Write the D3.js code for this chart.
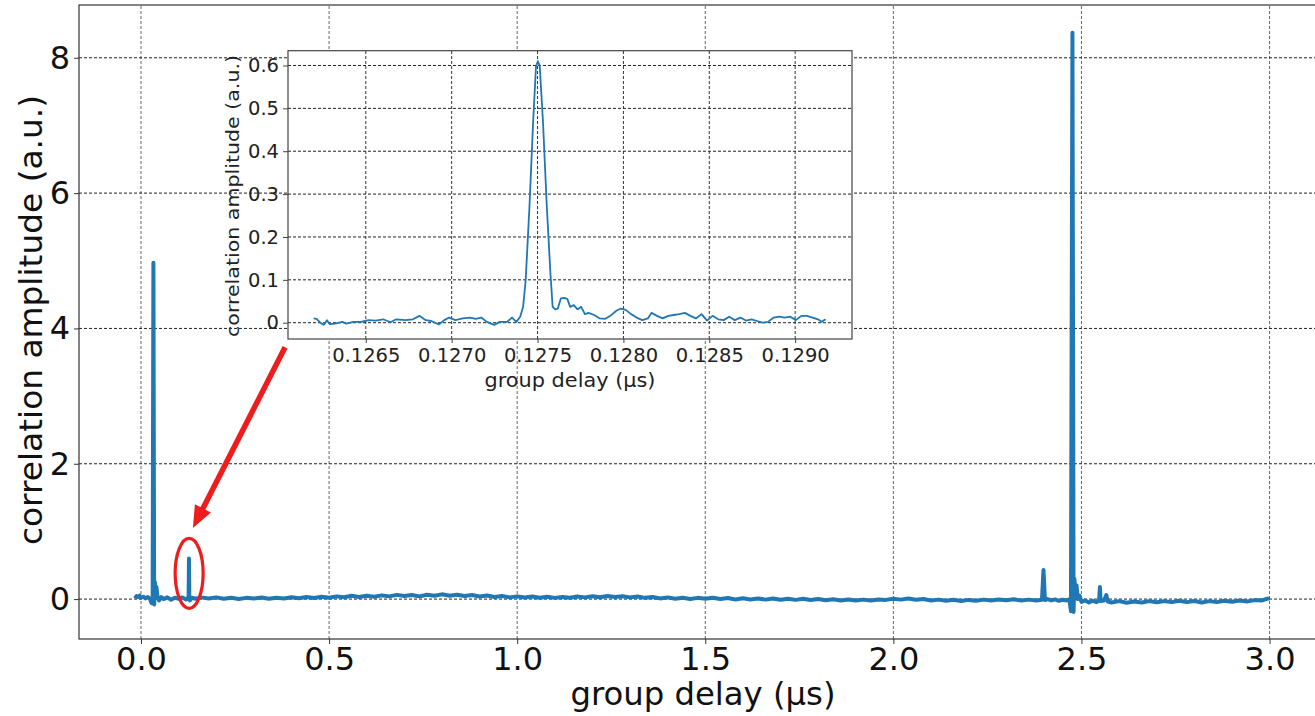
<!DOCTYPE html>
<html>
<head>
<meta charset="utf-8">
<script src="https://cdn.jsdelivr.net/npm/d3@7"></script>
<style>
  body { margin: 0; background: #fff; }
  svg { display: block; }
</style>
</head>
<body>
<div id="chart"></div>
<script>
let WIDTH = 1315;
let HEIGHT = 716;

// ticks
const mainXTicks = [0, 0.5, 1.0, 1.5, 2.0, 2.5, 3.0];
const mainYTicks = [0, 2, 4, 6, 8];
const insetXTicks = [0.1265, 0.1270, 0.1275, 0.1280, 0.1285, 0.1290];
const insetYTicks = [0, 0.1, 0.2, 0.3, 0.4, 0.5, 0.6];

// main trace: [group delay (us), amplitude]
const mainTrace = [
  [-0.016, 0.01], [-0.012, 0.045], [-0.008, 0.03], [-0.004, 0.05], [0.0, 0.02], [0.006, 0.035],
  [0.012, 0.01], [0.018, 0.03], [0.024, 0.0], [0.028, -0.06], [0.031, 0.05], [0.033, 4.97],
  [0.035, -0.08], [0.037, 0.25], [0.039, 0.1], [0.041, 0.18], [0.044, 0.03], [0.048, -0.02],
  [0.054, 0.03], [0.06, 0.0], [0.07, 0.025], [0.08, -0.01], [0.09, 0.02], [0.1, 0.005],
  [0.11, 0.025], [0.12, -0.005], [0.125, 0.02], [0.1265, 0.0], [0.1275, 0.6], [0.1285, 0.01],
  [0.13, -0.02], [0.135, 0.02], [0.145, 0.005], [0.16, 0.025], [0.18, 0.01], [0.20, 0.025],
  [0.22, 0.005], [0.24, 0.02], [0.26, 0.0], [0.28, 0.018], [0.30, 0.008], [0.32, 0.022],
  [0.34, 0.004], [0.36, 0.02], [0.38, 0.01], [0.40, 0.028], [0.42, 0.012], [0.44, 0.03],
  [0.46, 0.015], [0.48, 0.035], [0.50, 0.02], [0.52, 0.04], [0.54, 0.028], [0.56, 0.048],
  [0.58, 0.03], [0.60, 0.05], [0.62, 0.035], [0.64, 0.055], [0.66, 0.04], [0.68, 0.062],
  [0.70, 0.045], [0.72, 0.06], [0.74, 0.04], [0.76, 0.065], [0.78, 0.048], [0.80, 0.07],
  [0.82, 0.05], [0.84, 0.065], [0.86, 0.045], [0.88, 0.06], [0.90, 0.038], [0.92, 0.052],
  [0.94, 0.03], [0.96, 0.045], [0.98, 0.025], [1.00, 0.04], [1.02, 0.022], [1.04, 0.038],
  [1.06, 0.02], [1.08, 0.035], [1.10, 0.018], [1.12, 0.032], [1.14, 0.02], [1.16, 0.038],
  [1.18, 0.025], [1.20, 0.042], [1.22, 0.028], [1.24, 0.045], [1.26, 0.03], [1.28, 0.042],
  [1.30, 0.025], [1.32, 0.038], [1.34, 0.018], [1.36, 0.03], [1.38, 0.01], [1.40, 0.025],
  [1.42, 0.005], [1.44, 0.02], [1.46, 0.0], [1.48, 0.018], [1.50, 0.005], [1.52, 0.02],
  [1.54, 0.0], [1.56, 0.015], [1.58, -0.005], [1.60, 0.012], [1.62, -0.005], [1.64, 0.01],
  [1.66, -0.008], [1.68, 0.008], [1.70, -0.01], [1.72, 0.005], [1.74, -0.012], [1.76, 0.004],
  [1.78, -0.015], [1.80, 0.0], [1.82, -0.018], [1.84, -0.002], [1.86, -0.02], [1.88, -0.005],
  [1.90, -0.022], [1.92, -0.008], [1.94, -0.02], [1.96, -0.005], [1.98, -0.012], [2.00, 0.005],
  [2.02, -0.008], [2.04, 0.008], [2.06, -0.01], [2.08, 0.0], [2.10, -0.02], [2.12, -0.008],
  [2.14, -0.025], [2.16, -0.01], [2.18, -0.028], [2.20, -0.012], [2.22, -0.025], [2.24, -0.008],
  [2.26, -0.02], [2.28, -0.005], [2.30, -0.018], [2.32, -0.004], [2.34, -0.02], [2.36, -0.008],
  [2.38, -0.022], [2.395, -0.01], [2.399, 0.43], [2.403, -0.015], [2.41, 0.0], [2.42, -0.02],
  [2.43, -0.005], [2.44, -0.025], [2.45, -0.01], [2.46, -0.02], [2.468, -0.005], [2.472, -0.18],
  [2.476, 8.37], [2.479, -0.19], [2.481, 0.3], [2.484, 0.12], [2.487, 0.2], [2.49, 0.0],
  [2.495, 0.05], [2.50, -0.04], [2.51, -0.02], [2.52, -0.05], [2.53, -0.025], [2.54, -0.045],
  [2.547, -0.02], [2.549, 0.18], [2.551, -0.03], [2.56, -0.02], [2.566, 0.06], [2.57, -0.035],
  [2.58, -0.05], [2.60, -0.03], [2.62, -0.055], [2.64, -0.035], [2.66, -0.05], [2.68, -0.03],
  [2.70, -0.048], [2.72, -0.03], [2.74, -0.045], [2.76, -0.025], [2.78, -0.045], [2.80, -0.028],
  [2.82, -0.05], [2.84, -0.03], [2.86, -0.045], [2.88, -0.025], [2.90, -0.04], [2.92, -0.02],
  [2.94, -0.035], [2.96, -0.015], [2.98, -0.02], [2.99, 0.0], [3.0, 0.01]
];

// zoomed trace around the 0.1275 us peak
const insetTrace = [
  [0.126196, 0.010], [0.126213, 0.009], [0.126235, 0.000], [0.126256, -0.005], [0.126274, 0.006],
  [0.126289, -0.003], [0.126321, -0.002], [0.126364, 0.002], [0.126386, -0.002], [0.126429, 0.002],
  [0.126472, 0.002], [0.126515, 0.006], [0.126558, 0.005], [0.126601, 0.008], [0.126644, 0.001],
  [0.126677, 0.008], [0.126731, 0.006], [0.126774, 0.008], [0.126812, 0.016], [0.126849, 0.006],
  [0.126881, 0.004], [0.126925, -0.004], [0.126957, 0.006], [0.126985, 0.012], [0.127022, 0.006],
  [0.127065, 0.010], [0.127108, 0.012], [0.127140, 0.009], [0.127172, 0.012], [0.127205, 0.002],
  [0.127248, -0.005], [0.127280, 0.002], [0.127323, 0.002], [0.127351, 0.012], [0.127377, 0.002],
  [0.127399, 0.014], [0.127416, 0.037], [0.127431, 0.100], [0.127453, 0.271], [0.127474, 0.466],
  [0.127491, 0.598], [0.127502, 0.610], [0.127513, 0.598], [0.127532, 0.466], [0.127554, 0.271],
  [0.127575, 0.115], [0.127588, 0.037], [0.127603, 0.031], [0.127618, 0.033], [0.127636, 0.057],
  [0.127657, 0.058], [0.127674, 0.055], [0.127690, 0.037], [0.127711, 0.041], [0.127733, 0.031],
  [0.127754, 0.037], [0.127776, 0.020], [0.127797, 0.023], [0.127830, 0.018], [0.127862, 0.010],
  [0.127894, 0.009], [0.127927, 0.017], [0.127959, 0.028], [0.127985, 0.033], [0.128013, 0.030],
  [0.128045, 0.020], [0.128077, 0.012], [0.128110, 0.006], [0.128142, 0.010], [0.128164, 0.023],
  [0.128196, 0.016], [0.128228, 0.010], [0.128261, 0.016], [0.128293, 0.018], [0.128325, 0.020],
  [0.128358, 0.023], [0.128390, 0.016], [0.128422, 0.010], [0.128455, 0.020], [0.128487, 0.005],
  [0.128519, 0.016], [0.128552, 0.008], [0.128584, 0.006], [0.128616, 0.014], [0.128649, 0.006],
  [0.128681, 0.012], [0.128713, 0.005], [0.128746, 0.008], [0.128778, 0.004], [0.128810, 0.000],
  [0.128842, 0.002], [0.128875, 0.012], [0.128907, 0.014], [0.128939, 0.012], [0.128972, 0.014],
  [0.129004, 0.006], [0.129036, 0.016], [0.129069, 0.016], [0.129101, 0.012], [0.129133, 0.008],
  [0.129155, 0.002], [0.129177, 0.008]
];

// annotation (data units of the main axes)
const arrowFrom = [0.383, 3.72];
const arrowTo = [0.138, 1.05];
const ringCenter = [0.128, 0.38];

const BLUE = '#1f77b4';
const RED = '#ee1c1c';
const FONT = 'DejaVu Sans';

const svg = d3.select('#chart').append('svg')
    .attr('width', WIDTH).attr('height', HEIGHT);

// SCALES
const x = d3.scaleLinear().domain([-0.1648, 3.158]).range([79, 1329]);
const y = d3.scaleLinear().domain([-0.59, 8.78]).range([639, 5]);
const ix = d3.scaleLinear().domain([0.126047, 0.129331]).range([288, 852]);
const iy = d3.scaleLinear().domain([-0.038, 0.6345]).range([339, 50.7]);

// MAIN GRID
const g_main = svg.append('g').attr('id', 'main');
g_main.selectAll('line.vgrid').data(mainXTicks).join('line').attr('class', 'vgrid')
    .attr('x1', d => x(d)).attr('x2', d => x(d))
    .attr('y1', y.range()[0]).attr('y2', y.range()[1])
    .attr('stroke', '#666').attr('stroke-width', 1).attr('stroke-dasharray', '3,2');
g_main.selectAll('line.hgrid').data(mainYTicks).join('line').attr('class', 'hgrid')
    .attr('x1', x.range()[0]).attr('x2', x.range()[1])
    .attr('y1', d => y(d)).attr('y2', d => y(d))
    .attr('stroke', '#222').attr('stroke-width', 1).attr('stroke-dasharray', '3,2');

// MAIN LINE
const mainLine = d3.line().x(d => x(d[0])).y(d => y(d[1]));
g_main.append('path').datum(mainTrace)
    .attr('d', mainLine)
    .attr('fill', 'none').attr('stroke', BLUE).attr('stroke-width', 4)
    .attr('stroke-linejoin', 'round');

// MAIN SPINES
g_main.append('rect')
    .attr('x', x.range()[0]).attr('y', y.range()[1])
    .attr('width', x.range()[1] - x.range()[0]).attr('height', y.range()[0] - y.range()[1])
    .attr('fill', 'none').attr('stroke', '#333').attr('stroke-width', 1.2);

// MAIN AXES
const xAxis = g_main.append('g').attr('transform', `translate(0, ${y.range()[0]})`)
    .call(d3.axisBottom(x).tickValues(mainXTicks).tickFormat(d3.format('.1f')).tickSize(5).tickPadding(3));
const yAxis = g_main.append('g').attr('transform', `translate(${x.range()[0]}, 0)`)
    .call(d3.axisLeft(y).tickValues(mainYTicks).tickFormat(d3.format('d')).tickSize(5).tickPadding(4));
[xAxis, yAxis].forEach(a => {
    a.select('.domain').remove();
    a.selectAll('line').attr('stroke', '#333');
    a.selectAll('text').attr('font-family', FONT).attr('font-size', 32).attr('fill', '#111');
});

g_main.append('text').text('group delay (µs)')
    .attr('x', 703).attr('y', 705).attr('text-anchor', 'middle')
    .attr('font-family', FONT).attr('font-size', 32).attr('fill', '#111')
    .attr('textLength', 265).attr('lengthAdjust', 'spacingAndGlyphs');
g_main.append('text').text('correlation amplitude (a.u.)')
    .attr('transform', 'translate(42, 320) rotate(-90)').attr('text-anchor', 'middle')
    .attr('font-family', FONT).attr('font-size', 32).attr('fill', '#111')
    .attr('textLength', 450).attr('lengthAdjust', 'spacingAndGlyphs');

// INSET
const g_inset = svg.append('g').attr('id', 'inset');
g_inset.append('rect')
    .attr('x', ix.range()[0]).attr('y', iy.range()[1])
    .attr('width', ix.range()[1] - ix.range()[0]).attr('height', iy.range()[0] - iy.range()[1])
    .attr('fill', '#fff');

g_inset.selectAll('line.vgrid').data(insetXTicks).join('line').attr('class', 'vgrid')
    .attr('x1', d => ix(d)).attr('x2', d => ix(d))
    .attr('y1', iy.range()[0]).attr('y2', iy.range()[1])
    .attr('stroke', '#333').attr('stroke-width', 1).attr('stroke-dasharray', '3,2');
g_inset.selectAll('line.hgrid').data(insetYTicks).join('line').attr('class', 'hgrid')
    .attr('x1', ix.range()[0]).attr('x2', ix.range()[1])
    .attr('y1', d => iy(d)).attr('y2', d => iy(d))
    .attr('stroke', '#222').attr('stroke-width', 1).attr('stroke-dasharray', '3,2');

const insetLine = d3.line().x(d => ix(d[0])).y(d => iy(d[1]));
g_inset.append('path').datum(insetTrace)
    .attr('d', insetLine)
    .attr('fill', 'none').attr('stroke', BLUE).attr('stroke-width', 1.8)
    .attr('stroke-linejoin', 'round');

g_inset.append('rect')
    .attr('x', ix.range()[0]).attr('y', iy.range()[1])
    .attr('width', ix.range()[1] - ix.range()[0]).attr('height', iy.range()[0] - iy.range()[1])
    .attr('fill', 'none').attr('stroke', '#444').attr('stroke-width', 1.2);

const ixAxis = g_inset.append('g').attr('transform', `translate(0, ${iy.range()[0]})`)
    .call(d3.axisBottom(ix).tickValues(insetXTicks).tickFormat(d3.format('.4f')).tickSize(4).tickPadding(5));
const iyAxis = g_inset.append('g').attr('transform', `translate(${ix.range()[0]}, 0)`)
    .call(d3.axisLeft(iy).tickValues(insetYTicks).tickFormat(d => d === 0 ? '0' : d3.format('.1f')(d)).tickSize(5).tickPadding(4));
[ixAxis, iyAxis].forEach(a => {
    a.select('.domain').remove();
    a.selectAll('line').attr('stroke', '#444');
    a.selectAll('text').attr('font-family', FONT).attr('font-size', 19.5).attr('fill', '#222');
});

g_inset.append('text').text('group delay (µs)')
    .attr('x', 570).attr('y', 387).attr('text-anchor', 'middle')
    .attr('font-family', FONT).attr('font-size', 20).attr('fill', '#222')
    .attr('textLength', 171).attr('lengthAdjust', 'spacingAndGlyphs');
g_inset.append('text').text('correlation amplitude (a.u.)')
    .attr('transform', 'translate(239, 196) rotate(-90)').attr('text-anchor', 'middle')
    .attr('font-family', FONT).attr('font-size', 18).attr('fill', '#222')
    .attr('textLength', 282).attr('lengthAdjust', 'spacingAndGlyphs');

// ANNOTATION: red ring and arrow
const g_note = svg.append('g').attr('id', 'note');
g_note.append('ellipse')
    .attr('cx', x(ringCenter[0])).attr('cy', y(ringCenter[1]))
    .attr('rx', 14).attr('ry', 35)
    .attr('fill', 'none').attr('stroke', RED).attr('stroke-width', 3.2);

const ax0 = x(arrowFrom[0]), ay0 = y(arrowFrom[1]);
const ax1 = x(arrowTo[0]), ay1 = y(arrowTo[1]);
const len = Math.hypot(ax1 - ax0, ay1 - ay0);
const ux = (ax1 - ax0) / len, uy = (ay1 - ay0) / len;
const headLen = 22, headHalf = 9;
const bx = ax1 - ux * headLen, by = ay1 - uy * headLen;
g_note.append('line')
    .attr('x1', ax0).attr('y1', ay0).attr('x2', bx + ux * 2).attr('y2', by + uy * 2)
    .attr('stroke', RED).attr('stroke-width', 5.5);
g_note.append('polygon')
    .attr('points', [[ax1, ay1], [bx - uy * headHalf, by + ux * headHalf], [bx + uy * headHalf, by - ux * headHalf]].map(p => p.join(',')).join(' '))
    .attr('fill', RED);
</script>
</body>
</html>
